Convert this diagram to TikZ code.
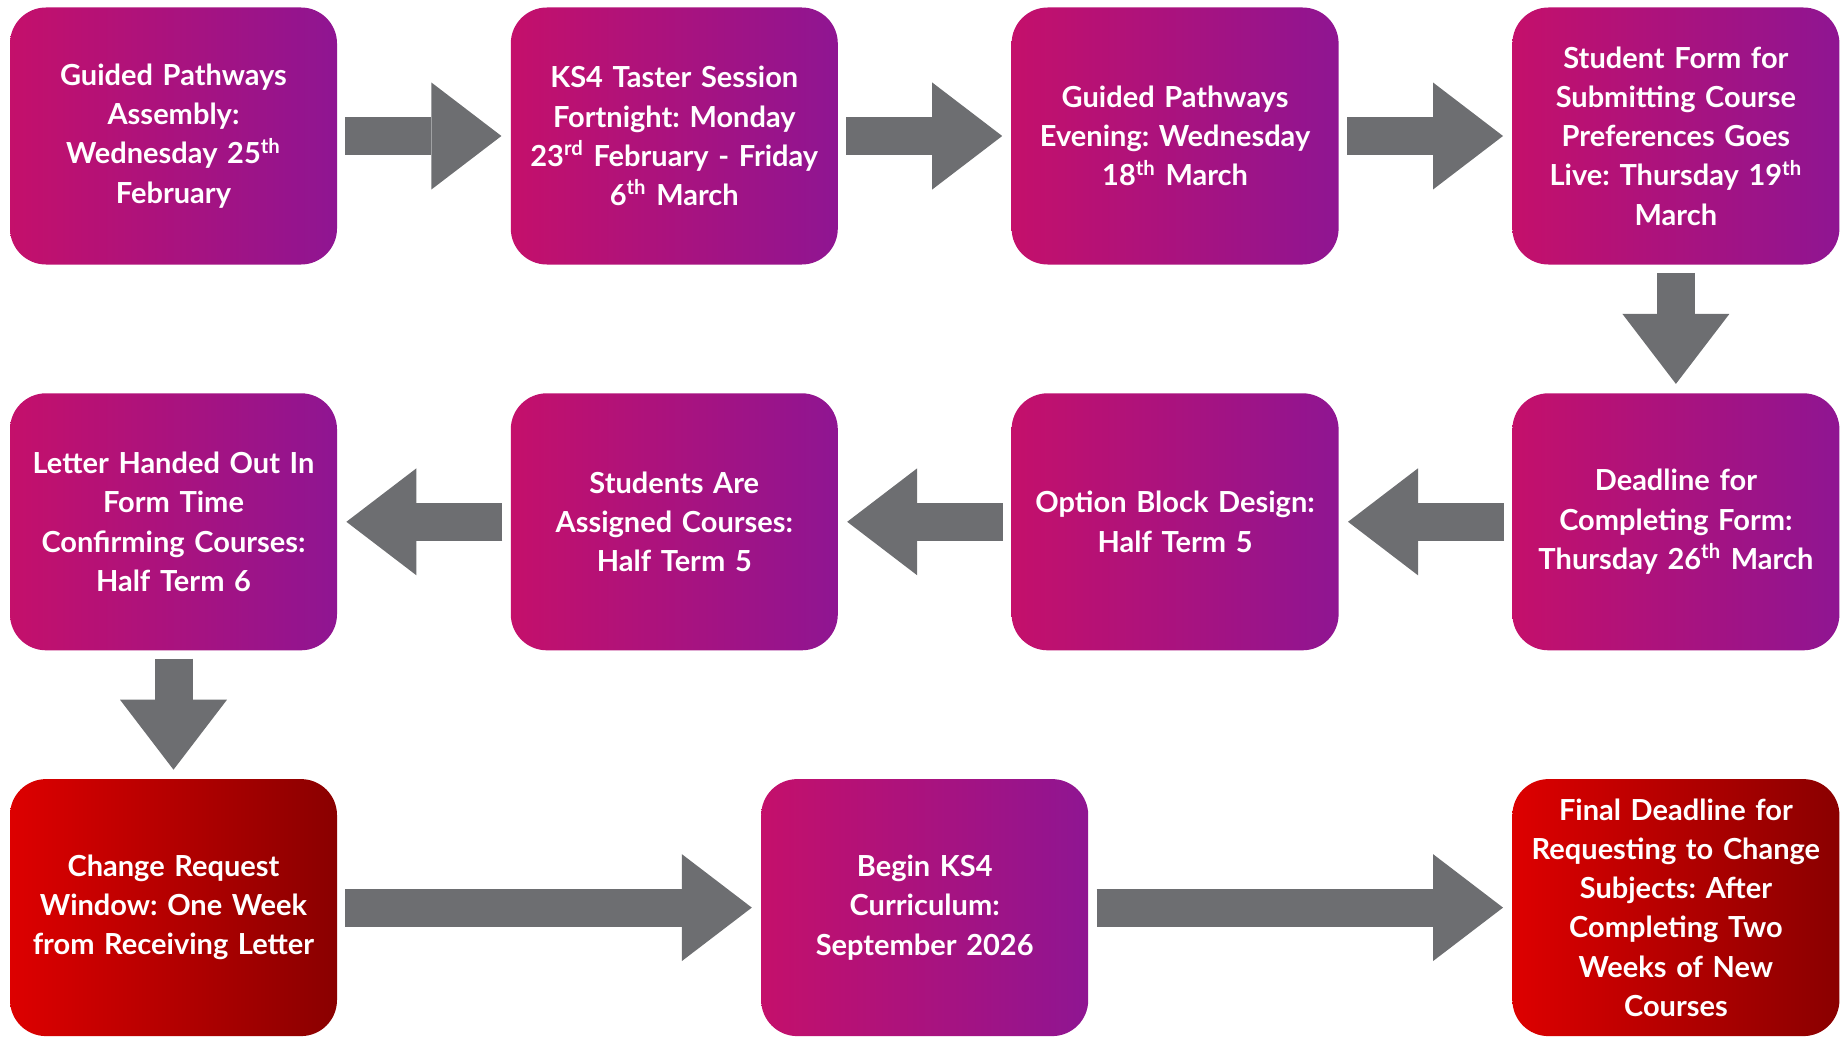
\documentclass[tikz,border=0pt]{standalone}
\usepackage{fontspec}
\setmainfont{Lato}
\usepackage{tikz}
\usetikzlibrary{arrows.meta, positioning, calc}
\definecolor{pathpink}{RGB}{196,16,107}
\definecolor{pathpurple}{RGB}{143,21,146}
\definecolor{alertred}{RGB}{221,0,0}
\definecolor{alertdark}{RGB}{138,0,0}
\definecolor{arrowgray}{RGB}{109,110,113}
\frenchspacing

\begin{document}
\begin{tikzpicture}[
  x=0.5pt, y=-0.5pt,
  box/.style={rectangle, rounded corners=18pt, left color=pathpink, right color=pathpurple, draw=none, minimum width=163.5pt, minimum height=128.5pt, text width=160pt, inner sep=0pt, align=center, text=white, font=\fontsize{14.5}{19.6}\selectfont\bfseries},
  redbox/.style={box, left color=alertred, right color=alertdark},
  arrow/.style={draw=arrowgray, line width=19pt, -{Triangle[length=35pt, width=53.5pt, line width=0pt]}, shorten <=4pt, shorten >=4.5pt}
]
\useasboundingbox (0,0) rectangle (1841,1038);

% first row
\node[box] (assembly) at (173.5,136) {Guided Pathways\\Assembly:\\Wednesday 25\textsuperscript{th}\\February};
\node[box, right=86.5pt of assembly] (taster) {KS4 Taster Session\\Fortnight: Monday\\23\textsuperscript{rd} February - Friday\\6\textsuperscript{th} March};
\node[box, right=86.5pt of taster] (evening) {Guided Pathways\\Evening: Wednesday\\18\textsuperscript{th} March};
\node[box, right=86.5pt of evening] (formlive) {Student Form for\\Submitting Course\\Preferences Goes\\Live: Thursday 19\textsuperscript{th}\\March};

% second row, right to left
\node[box, below=64pt of formlive] (deadline) {Deadline for\\Completing Form:\\Thursday 26\textsuperscript{th} March};
\node[box, left=86.5pt of deadline] (blocks) {Option Block Design:\\Half Term 5};
\node[box, left=86.5pt of blocks] (assigned) {Students Are\\Assigned Courses:\\Half Term 5};
\node[box, left=86.5pt of assigned] (letter) {Letter Handed Out In\\Form Time\\Confirming Courses:\\Half Term 6};

% third row
\node[redbox, below=64pt of letter] (window) {Change Request\\Window: One Week\\from Receiving Letter};
\node[redbox, below=64pt of deadline] (finaldl) {Final Deadline for\\Requesting to Change\\Subjects: After\\Completing Two\\Weeks of New\\Courses};
\node[box] (begin) at ($(window)!0.5!(finaldl)$) {Begin KS4\\Curriculum:\\September 2026};

\draw[arrow] (assembly) -- (taster);
\draw[arrow] (taster) -- (evening);
\draw[arrow] (evening) -- (formlive);
\draw[arrow] (formlive) -- (deadline);
\draw[arrow] (deadline) -- (blocks);
\draw[arrow] (blocks) -- (assigned);
\draw[arrow] (assigned) -- (letter);
\draw[arrow] (letter) -- (window);
\draw[arrow] (window) -- (begin);
\draw[arrow] (begin) -- (finaldl);
\end{tikzpicture}
\end{document}
